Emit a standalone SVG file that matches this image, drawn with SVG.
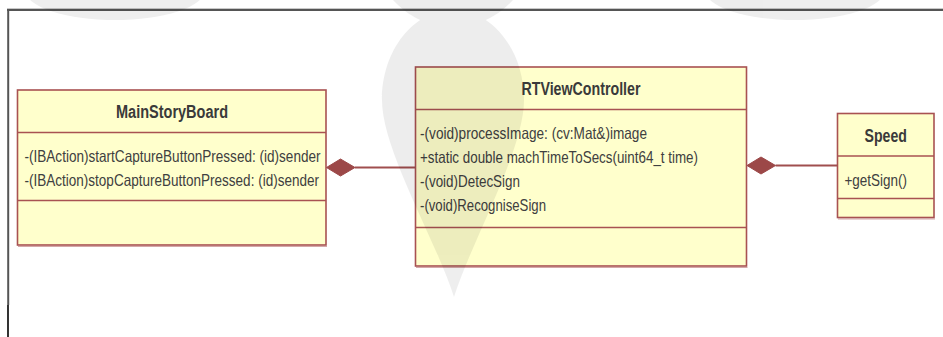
<svg xmlns="http://www.w3.org/2000/svg" width="943" height="337" viewBox="0 0 943 337">
  <style>
    .box { fill: #ffffcc; stroke: #a85252; stroke-width: 1.6; }
    .sep { stroke: #a85252; stroke-width: 1.6; fill: none; }
    .shadow { stroke: #d4a8a8; stroke-width: 1.2; fill: none; }
    .title { font-family: "Liberation Sans Narrow", "Liberation Sans", Arial, sans-serif; font-weight: bold; font-size: 17.5px; fill: #3a3a3a; text-anchor: middle; }
    .member { font-family: "Liberation Sans Narrow", "Liberation Sans", Arial, sans-serif; font-size: 16.5px; fill: #404040; }
    .link { stroke: #a04e4e; stroke-width: 1.8; fill: none; }
    .diamond { fill: #9c4848; stroke: #9c4848; stroke-width: 1; }
  </style>

  <rect x="0" y="0" width="943" height="337" fill="#ffffff"/>

  <!-- page frame -->
  <g id="frame">
    <line x1="7" y1="8.5" x2="943" y2="8.5" stroke="#c8c8c8" stroke-width="1"/>
    <line x1="7" y1="10" x2="943" y2="10" stroke="#555555" stroke-width="2"/>
    <line x1="8.2" y1="9" x2="8.2" y2="305" stroke="#555555" stroke-width="2"/>
    <line x1="8" y1="305" x2="8" y2="337" stroke="#000000" stroke-width="1.6"/>
  </g>

  <!-- class: MainStoryBoard -->
  <g id="MainStoryBoard">
    <line class="shadow" x1="18" y1="246.5" x2="327" y2="246.5"/>
    <rect class="box" x="17.5" y="90" width="308.5" height="155"/>
    <line class="sep" x1="17.5" y1="132.5" x2="326" y2="132.5"/>
    <line class="sep" x1="17.5" y1="200.5" x2="326" y2="200.5"/>
    <text class="title" x="172" y="117.5" textLength="112" lengthAdjust="spacingAndGlyphs">MainStoryBoard</text>
    <text class="member" x="24.5" y="161.5" textLength="296" lengthAdjust="spacingAndGlyphs">-(IBAction)startCaptureButtonPressed: (id)sender</text>
    <text class="member" x="24.5" y="185.5" textLength="294.5" lengthAdjust="spacingAndGlyphs">-(IBAction)stopCaptureButtonPressed: (id)sender</text>
  </g>

  <!-- class: RTViewController -->
  <g id="RTViewController">
    <line class="shadow" x1="416" y1="267.5" x2="747.5" y2="267.5"/>
    <rect class="box" x="415.5" y="67" width="331" height="199"/>
    <line class="sep" x1="415.5" y1="109.5" x2="746.5" y2="109.5"/>
    <line class="sep" x1="415.5" y1="227.5" x2="746.5" y2="227.5"/>
    <text class="title" x="581" y="94.5" textLength="119" lengthAdjust="spacingAndGlyphs">RTViewController</text>
    <text class="member" x="420" y="138.5" textLength="227" lengthAdjust="spacingAndGlyphs">-(void)processImage: (cv:Mat&amp;)image</text>
    <text class="member" x="420" y="162.5" textLength="278" lengthAdjust="spacingAndGlyphs">+static double machTimeToSecs(uint64_t time)</text>
    <text class="member" x="420" y="187" textLength="100" lengthAdjust="spacingAndGlyphs">-(void)DetecSign</text>
    <text class="member" x="420" y="211" textLength="126" lengthAdjust="spacingAndGlyphs">-(void)RecogniseSign</text>
  </g>

  <!-- class: Speed -->
  <g id="Speed">
    <line class="shadow" x1="838" y1="219" x2="935" y2="219"/>
    <rect class="box" x="837.5" y="113.5" width="96.5" height="104"/>
    <line class="sep" x1="837.5" y1="156" x2="934" y2="156"/>
    <line class="sep" x1="837.5" y1="198.5" x2="934" y2="198.5"/>
    <text class="title" x="885.7" y="141.5" textLength="42.3" lengthAdjust="spacingAndGlyphs">Speed</text>
    <text class="member" x="844.5" y="186" textLength="62.5" lengthAdjust="spacingAndGlyphs">+getSign()</text>
  </g>

  <!-- composition associations (filled diamond on the whole side) -->
  <g id="connectors">
    <line class="link" x1="355" y1="167.5" x2="415.5" y2="167.5"/>
    <polygon class="diamond" points="326.5,167.5 340.5,159 355,167.5 340.5,176"/>
    <line class="link" x1="775.5" y1="165.5" x2="837.5" y2="165.5"/>
    <polygon class="diamond" points="747,165.5 761,157 775.5,165.5 761,174"/>
  </g>

  <!-- faint background logo, composited as one layer -->
  <g id="watermark" opacity="0.065" fill="#000000">
    <ellipse cx="115" cy="-10" rx="90" ry="30"/>
    <ellipse cx="795" cy="-10" rx="90" ry="30"/>
    <circle cx="453" cy="-53" r="80"/>
    <path d="M453,10 C492,10 524,50 524,100 C524,150 472,240 454,297 C436,240 382,150 382,100 C382,50 414,10 453,10 Z"/>
  </g>
</svg>
